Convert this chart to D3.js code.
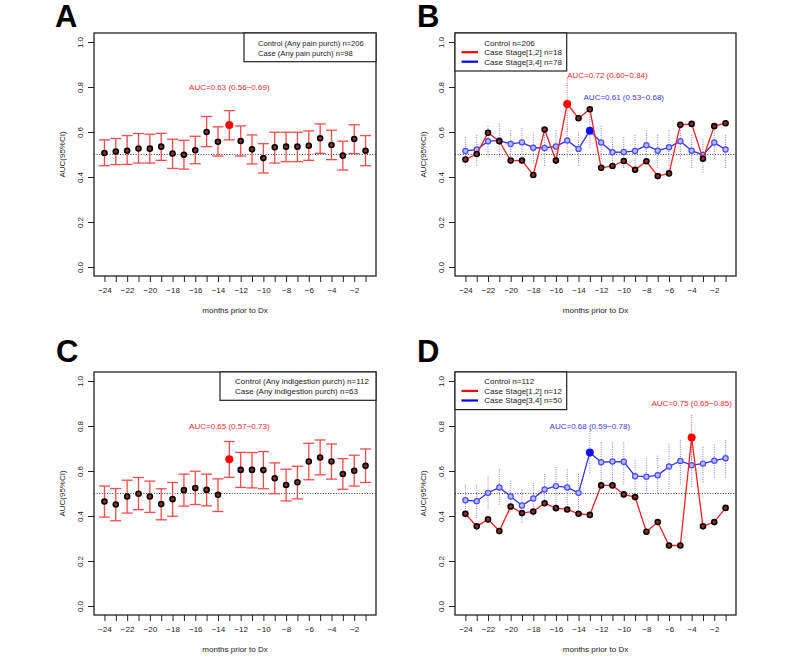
<!DOCTYPE html>
<html><head><meta charset="utf-8">
<script src="https://cdnjs.cloudflare.com/ajax/libs/d3/7.8.5/d3.min.js"></script>
<style>body{margin:0;background:#fff} svg{display:block} text{font-family:"Liberation Sans",Arial,Helvetica,sans-serif}</style>
</head><body><svg id="chart" width="800" height="657"></svg>
<script>
// ---------- data ----------
const months = d3.range(-24, 0);
const xTickLabels = [-24,-22,-20,-18,-16,-14,-12,-10,-8,-6,-4,-2];
const yTicks = [0, 0.2, 0.4, 0.6, 0.8, 1.0];

// Panel A: any pain purchase
const aAUC  = [0.507,0.513,0.517,0.527,0.526,0.535,0.504,0.499,0.519,0.600,0.557,0.631,0.560,0.523,0.484,0.532,0.535,0.535,0.539,0.572,0.542,0.495,0.569,0.517];
const aLow  = [0.450,0.455,0.456,0.462,0.462,0.474,0.438,0.435,0.459,0.535,0.493,0.565,0.493,0.458,0.418,0.462,0.468,0.468,0.474,0.505,0.477,0.431,0.504,0.450];
const aHigh = [0.565,0.571,0.584,0.593,0.590,0.594,0.568,0.563,0.581,0.669,0.623,0.695,0.627,0.587,0.548,0.599,0.599,0.599,0.605,0.636,0.608,0.559,0.632,0.584];

// Panel C: any indigestion purchase
const cAUC  = [0.464,0.451,0.487,0.499,0.487,0.453,0.475,0.515,0.524,0.516,0.494,0.652,0.605,0.605,0.604,0.568,0.538,0.550,0.642,0.660,0.642,0.587,0.601,0.623];
const cLow  = [0.395,0.379,0.413,0.428,0.416,0.383,0.399,0.444,0.451,0.445,0.420,0.572,0.527,0.525,0.521,0.499,0.467,0.476,0.561,0.583,0.564,0.519,0.533,0.549];
const cHigh = [0.533,0.522,0.559,0.571,0.555,0.521,0.549,0.586,0.599,0.586,0.565,0.731,0.683,0.682,0.686,0.636,0.608,0.621,0.723,0.738,0.720,0.655,0.670,0.698];

// Panel B: pain, by stage
const bEarly     = [0.478,0.502,0.597,0.559,0.473,0.473,0.409,0.611,0.473,0.725,0.661,0.701,0.441,0.449,0.471,0.432,0.470,0.404,0.416,0.632,0.636,0.481,0.626,0.639];
const bLate      = [0.516,0.522,0.559,0.562,0.547,0.554,0.530,0.529,0.536,0.562,0.525,0.606,0.553,0.510,0.511,0.516,0.541,0.517,0.532,0.559,0.517,0.498,0.553,0.522];
const bLateLow   = [0.45,0.45,0.49,0.49,0.48,0.48,0.46,0.45,0.46,0.49,0.45,0.53,0.48,0.44,0.44,0.44,0.47,0.44,0.45,0.48,0.44,0.42,0.48,0.44];
const bLateHigh  = [0.58,0.59,0.63,0.64,0.61,0.62,0.60,0.60,0.61,0.63,0.60,0.68,0.63,0.58,0.58,0.59,0.61,0.59,0.61,0.63,0.59,0.57,0.63,0.59];
const bEarlyPeakCI = [0.60, 0.84];

// Panel D: indigestion, by stage
const dEarly     = [0.410,0.354,0.385,0.333,0.442,0.413,0.420,0.457,0.435,0.429,0.410,0.405,0.536,0.536,0.496,0.484,0.330,0.373,0.269,0.269,0.749,0.354,0.373,0.436];
const dLate      = [0.470,0.466,0.503,0.527,0.487,0.447,0.478,0.518,0.533,0.527,0.503,0.682,0.639,0.642,0.641,0.577,0.575,0.581,0.620,0.645,0.626,0.633,0.646,0.657];
const dLateLow   = [0.39,0.39,0.43,0.45,0.42,0.37,0.40,0.45,0.45,0.45,0.42,0.59,0.55,0.55,0.54,0.50,0.50,0.50,0.52,0.54,0.53,0.55,0.57,0.57];
const dLateHigh  = [0.54,0.54,0.58,0.61,0.56,0.52,0.55,0.59,0.62,0.61,0.59,0.78,0.73,0.73,0.73,0.65,0.66,0.67,0.72,0.74,0.72,0.71,0.72,0.74];
const dEarlyPeakCI = [0.65, 0.85];

// labels
const legendA = ["Control (Any pain purch) n=206", "Case (Any pain purch) n=98"];
const legendC = ["Control (Any indigestion purch) n=112", "Case (Any indigestion purch) n=63"];
const legendB = ["Control n=206", "Case Stage[1,2] n=18", "Case Stage[3,4] n=78"];
const legendD = ["Control n=112", "Case Stage[1,2] n=12", "Case Stage[3,4] n=50"];
// annotations: [text, month, auc level, anchor, colour]
const annA = [["AUC=0.63 (0.56\u22120.69)", -13, 0.80, "middle", "red"]];
const annC = [["AUC=0.65 (0.57\u22120.73)", -13, 0.80, "middle", "red"]];
const annB = [["AUC=0.72 (0.60\u22120.84)", -15, 0.854, "start", "red"],
              ["AUC=0.61 (0.53\u22120.68)", -10, 0.755, "middle", "blue"]];
const annD = [["AUC=0.68 (0.59\u22120.78)", -13, 0.80, "middle", "blue"],
              ["AUC=0.75 (0.65\u22120.85)", -4, 0.90, "middle", "red"]];

// ---------- drawing ----------
const svg = d3.select("#chart");
const RED = "#ff2020", BLUE = "#3030ff";
const fmtX = d => (d < 0 ? "\u2212" + Math.abs(d) : String(d));

function panel(o) {
  const g = svg.append("g");
  const x = d3.scaleLinear().domain([-24.92, -0.08]).range([o.x0, o.x1]);
  const y = d3.scaleLinear().domain([-0.04, 1.04]).range([o.y1, o.y0]);

  // letter
  g.append("text").attr("x", o.lx).attr("y", o.ly).attr("font-size", 31)
    .attr("font-weight", "bold").attr("fill", "#000").text(o.letter);

  // axes
  const xa = g.append("g").attr("transform", `translate(0,${o.y1})`)
    .call(d3.axisBottom(x).tickValues(months).tickSize(6).tickFormat(d => xTickLabels.includes(d) ? fmtX(d) : ""));
  xa.select(".domain").remove();
  xa.selectAll("line").attr("stroke", "#222");
  xa.selectAll("text").attr("font-size", 8).attr("fill", "#222").attr("y", 11).attr("dy", "0.71em");

  const ya = g.append("g").attr("transform", `translate(${o.x0},0)`)
    .call(d3.axisLeft(y).tickValues(yTicks).tickSize(6).tickFormat(d3.format(".1f")));
  ya.select(".domain").remove();
  ya.selectAll("line").attr("stroke", "#222");
  ya.selectAll("text").attr("font-size", 8).attr("fill", "#222")
    .attr("transform", "rotate(-90)").attr("x", 0).attr("y", -14).attr("dy", "0.35em")
    .attr("text-anchor", "middle");

  g.append("text").attr("x", (o.x0 + o.x1) / 2).attr("y", o.y1 + 37).attr("text-anchor", "middle")
    .attr("font-size", 8).attr("fill", "#222").text("months prior to Dx");
  g.append("text").attr("transform", `translate(${o.x0 - 32},${y(0.5)}) rotate(-90)`)
    .attr("text-anchor", "middle").attr("dy", "0.35em").attr("font-size", 8).attr("fill", "#222").text("AUC(95%CI)");

  // reference line at 0.5
  g.append("line").attr("x1", o.x0).attr("x2", o.x1).attr("y1", y(0.5)).attr("y2", y(0.5))
    .attr("stroke", "#444").attr("stroke-width", 1).attr("stroke-dasharray", "1,1.6");

  if (o.type === "single") {
    const data = months.map((m, i) => ({m, v: o.auc[i], lo: o.low[i], hi: o.high[i]}));
    const eb = g.append("g").attr("stroke", "#ff4a4a").attr("stroke-width", 1.3);
    data.forEach(d => {
      eb.append("line").attr("x1", x(d.m)).attr("x2", x(d.m)).attr("y1", y(d.lo)).attr("y2", y(d.hi));
      eb.append("line").attr("x1", x(d.m) - 5.5).attr("x2", x(d.m) + 5.5).attr("y1", y(d.lo)).attr("y2", y(d.lo));
      eb.append("line").attr("x1", x(d.m) - 5.5).attr("x2", x(d.m) + 5.5).attr("y1", y(d.hi)).attr("y2", y(d.hi));
    });
    g.selectAll(null).data(data.filter(d => d.m !== o.peak)).enter().append("circle")
      .attr("cx", d => x(d.m)).attr("cy", d => y(d.v)).attr("r", 2.5)
      .attr("fill", "#8a3030").attr("stroke", "#000").attr("stroke-width", 1.6);
    const p = data.find(d => d.m === o.peak);
    g.append("circle").attr("cx", x(p.m)).attr("cy", y(p.v)).attr("r", 4).attr("fill", "#ff0000");
  } else {
    const late = months.map((m, i) => ({m, v: o.late[i], lo: o.lateLow[i], hi: o.lateHigh[i]}));
    const early = months.map((m, i) => ({m, v: o.early[i]}));
    // blue CIs dotted
    g.selectAll(null).data(late).enter().append("line")
      .attr("x1", d => x(d.m)).attr("x2", d => x(d.m)).attr("y1", d => y(d.lo)).attr("y2", d => y(d.hi))
      .attr("stroke", "#7b7bff").attr("stroke-width", 1).attr("stroke-dasharray", "1,1.3");
    // red peak CI dotted
    g.append("line").attr("x1", x(o.earlyPeak)).attr("x2", x(o.earlyPeak))
      .attr("y1", y(o.earlyPeakCI[0])).attr("y2", y(o.earlyPeakCI[1]))
      .attr("stroke", "#ff6060").attr("stroke-width", 1).attr("stroke-dasharray", "1,1.3");
    const line = d3.line().x(d => x(d.m)).y(d => y(d.v));
    g.append("path").datum(late).attr("d", line).attr("fill", "none").attr("stroke", BLUE).attr("stroke-width", 1.3);
    g.selectAll(null).data(late.filter(d => d.m !== o.latePeak)).enter().append("circle")
      .attr("cx", d => x(d.m)).attr("cy", d => y(d.v)).attr("r", 2.6)
      .attr("fill", "#b8b8ff").attr("stroke", "#4a4aff").attr("stroke-width", 1.2);
    const lp = late.find(d => d.m === o.latePeak);
    g.append("circle").attr("cx", x(lp.m)).attr("cy", y(lp.v)).attr("r", 4).attr("fill", "#1010ff");

    g.append("path").datum(early).attr("d", line).attr("fill", "none").attr("stroke", RED).attr("stroke-width", 1.3);
    g.selectAll(null).data(early.filter(d => d.m !== o.earlyPeak)).enter().append("circle")
      .attr("cx", d => x(d.m)).attr("cy", d => y(d.v)).attr("r", 2.5)
      .attr("fill", "#9a2a2a").attr("stroke", "#000").attr("stroke-width", 1.6);
    const ep = early.find(d => d.m === o.earlyPeak);
    g.append("circle").attr("cx", x(ep.m)).attr("cy", y(ep.v)).attr("r", 4).attr("fill", "#ff0000");
  }

  // annotations
  o.ann.forEach(a => {
    g.append("text").attr("x", x(a[1])).attr("y", y(a[2])).attr("dy", "0.35em")
      .attr("text-anchor", a[3]).attr("font-size", 8)
      .attr("fill", a[4] === "red" ? "#ff2a2a" : "#3a3aff").text(a[0]);
  });

  // box
  g.append("rect").attr("x", o.x0).attr("y", o.y0).attr("width", o.x1 - o.x0).attr("height", o.y1 - o.y0)
    .attr("fill", "none").attr("stroke", "#222").attr("stroke-width", 1.3);

  // legend
  const L = o.legend;
  const lg = g.append("g");
  lg.append("rect").attr("x", L.x0).attr("y", o.y0).attr("width", L.x1 - L.x0).attr("height", L.h)
    .attr("fill", "#fff").attr("stroke", "#222").attr("stroke-width", 1.2);
  L.items.forEach((t, i) => {
    const yy = o.y0 + L.first + i * L.step;
    lg.append("text").attr("x", L.tx).attr("y", yy).attr("dy", "0.35em").attr("font-size", L.fs)
      .attr("fill", "#222").text(t);
    if (L.colors && L.colors[i]) {
      lg.append("line").attr("x1", L.x0 + 6.5).attr("x2", L.x0 + 23).attr("y1", yy).attr("y2", yy)
        .attr("stroke", L.colors[i]).attr("stroke-width", 2.2);
    }
  });
}

const LX0 = 94, LX1 = 376, RX0 = 455, RX1 = 736;
const TY0 = 33, TY1 = 276, BY0 = 372, BY1 = 615;

panel({letter: "A", lx: 55, ly: 27, x0: LX0, x1: LX1, y0: TY0, y1: TY1, type: "single",
  auc: aAUC, low: aLow, high: aHigh, peak: -13, ann: annA,
  legend: {x0: 244, x1: LX1, h: 28.7, tx: 258, first: 10.5, step: 9.4, fs: 7.6, items: legendA}});
panel({letter: "B", lx: 417, ly: 27, x0: RX0, x1: RX1, y0: TY0, y1: TY1, type: "stage",
  early: bEarly, late: bLate, lateLow: bLateLow, lateHigh: bLateHigh, earlyPeak: -15, latePeak: -13,
  earlyPeakCI: bEarlyPeakCI, ann: annB,
  legend: {x0: RX0, x1: 566.7, h: 38, tx: 484.3, first: 9.7, step: 9.5, fs: 8, items: legendB, colors: [null, "#ff0000", "#0000ff"]}});
panel({letter: "C", lx: 56, ly: 362, x0: LX0, x1: LX1, y0: BY0, y1: BY1, type: "single",
  auc: cAUC, low: cLow, high: cHigh, peak: -13, ann: annC,
  legend: {x0: 220, x1: LX1, h: 28.3, tx: 235, first: 9.5, step: 9.4, fs: 8, items: legendC}});
panel({letter: "D", lx: 417, ly: 362, x0: RX0, x1: RX1, y0: BY0, y1: BY1, type: "stage",
  early: dEarly, late: dLate, lateLow: dLateLow, lateHigh: dLateHigh, earlyPeak: -4, latePeak: -13,
  earlyPeakCI: dEarlyPeakCI, ann: annD,
  legend: {x0: RX0, x1: 566.7, h: 37.6, tx: 484.3, first: 9.3, step: 9.6, fs: 8, items: legendD, colors: [null, "#ff0000", "#0000ff"]}});
</script></body></html>
